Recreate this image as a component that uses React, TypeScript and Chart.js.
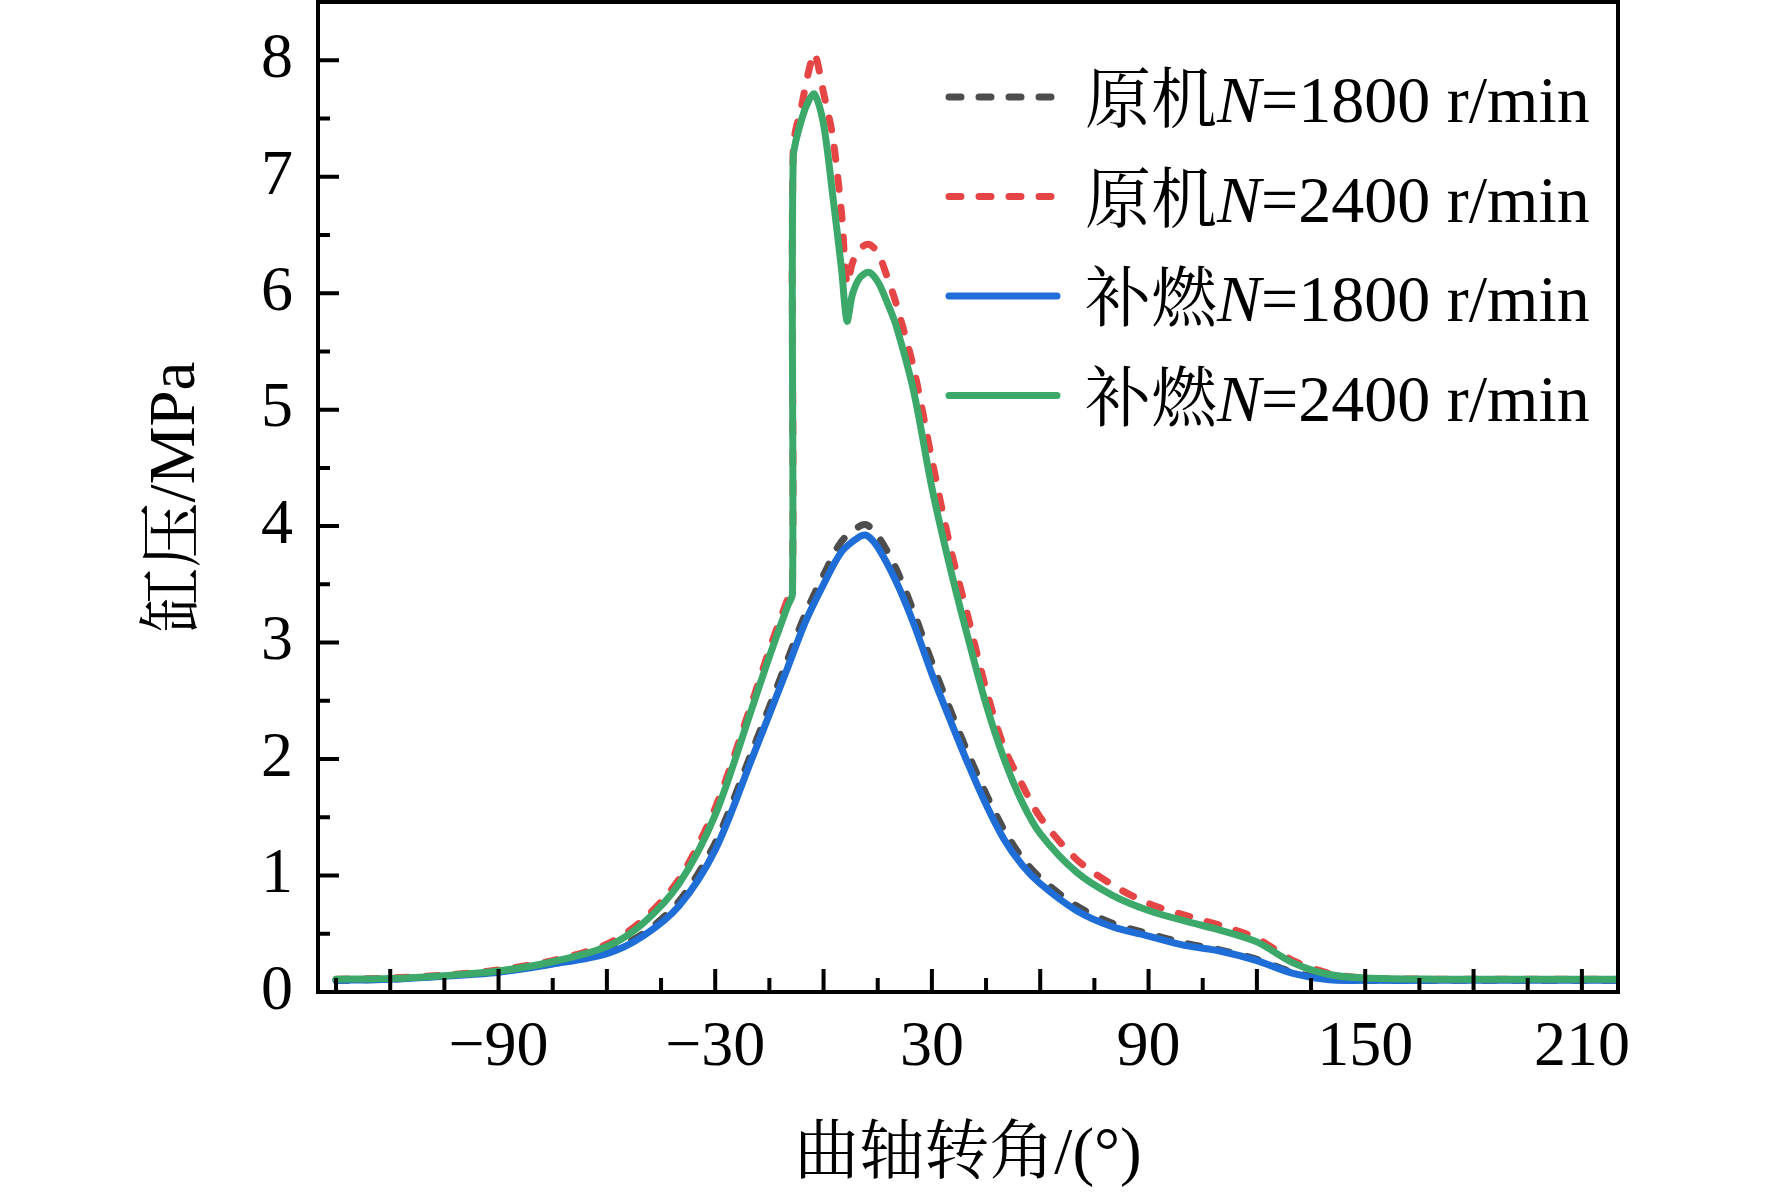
import { useEffect, useRef } from 'react';
import { Chart, registerables } from 'chart.js';

Chart.register(...registerables);

// crank angle (deg) for the 1800 r/min runs
const angles1800 = [
  -135, -120, -105, -90, -75, -60, -50, -40, -30, -20, -10, -5, 0, 5, 10, 12, 15, 20, 25, 30, 35, 40,
  45, 50, 55, 60, 70, 80, 90, 100, 110, 120, 130, 140, 150, 170, 190, 220,
];
const original1800 = [
  0.1, 0.11, 0.14, 0.18, 0.25, 0.35, 0.5, 0.78, 1.28, 2.05, 2.85, 3.25, 3.58, 3.87, 4.0, 4.01, 3.92,
  3.64, 3.26, 2.83, 2.43, 2.05, 1.7, 1.39, 1.15, 0.98, 0.74, 0.59, 0.5, 0.42, 0.36, 0.28, 0.17, 0.11,
  0.1, 0.1, 0.1, 0.1,
];
const afterburn1800 = [
  0.1, 0.11, 0.135, 0.17, 0.24, 0.33, 0.48, 0.74, 1.22, 1.99, 2.78, 3.18, 3.5, 3.78, 3.91, 3.92, 3.82,
  3.53, 3.16, 2.73, 2.34, 1.96, 1.61, 1.31, 1.09, 0.93, 0.7, 0.56, 0.48, 0.4, 0.35, 0.27, 0.16, 0.105,
  0.1, 0.1, 0.1, 0.1,
];

// crank angle (deg) for the 2400 r/min runs (sharp rise near -8.5)
const angles2400 = [
  -135, -120, -105, -90, -75, -60, -50, -40, -30, -20, -15, -10, -8.6, -8.4, -6, -4, -2.5, 0, 2.5, 5,
  6.5, 8, 10, 12.5, 15, 17.5, 20, 25, 30, 35, 40, 45, 50, 55, 60, 70, 80, 90, 100, 110, 120, 130, 140,
  150, 170, 190, 220,
];
const original2400 = [
  0.11, 0.12, 0.145, 0.19, 0.27, 0.41, 0.62, 0.97, 1.58, 2.47, 2.94, 3.37, 3.48, 7.25, 7.62, 7.92, 8.06,
  7.72, 7.35, 6.68, 6.08, 6.26, 6.38, 6.42, 6.35, 6.15, 5.92, 5.35, 4.57, 3.83, 3.22, 2.6, 2.1, 1.78,
  1.5, 1.14, 0.92, 0.76, 0.66, 0.57, 0.46, 0.27, 0.16, 0.12, 0.11, 0.11, 0.11,
];
const afterburn2400 = [
  0.11, 0.115, 0.14, 0.18, 0.26, 0.39, 0.59, 0.93, 1.52, 2.42, 2.88, 3.31, 3.42, 7.16, 7.5, 7.66, 7.71,
  7.45, 6.85, 6.2, 5.76, 5.99, 6.13, 6.18, 6.1, 5.93, 5.73, 5.15, 4.33, 3.65, 3.04, 2.47, 2.0, 1.63,
  1.36, 1.03, 0.83, 0.7, 0.61, 0.53, 0.43, 0.25, 0.15, 0.12, 0.11, 0.11, 0.11,
];

const seriesPrefix = ['原机', '原机', '补燃', '补燃'];
const seriesSpeed = ['1800', '2400', '1800', '2400'];
const seriesColors = ['#4d4d4d', '#e64545', '#1f6dd6', '#3ca96b'];

const xLabelValues = [-90, -30, 30, 90, 150, 210];
const xTitle = '曲轴转角/(°)';
const yTitle = '缸压/MPa';

const SERIF = '"Liberation Serif", "Times New Roman", "Noto Serif CJK SC", "Noto Sans CJK SC", serif';

const xTickValues: number[] = [];
for (let v = -135; v <= 210; v += 15) xTickValues.push(v);
const yTickValues: number[] = [];
for (let v = 0; v <= 8.5; v += 0.5) yTickValues.push(v);

const pts = (xs: number[], ys: number[]) => xs.map((x, i) => ({ x, y: ys[i] }));

const framePlugin = {
  id: 'frameAndTicks',
  afterDatasetsDraw(chart: any) {
    const { ctx, chartArea: a, scales } = chart;
    ctx.save();
    ctx.strokeStyle = '#000';
    ctx.lineWidth = 4;
    ctx.beginPath();
    scales.x.ticks.forEach((t: any) => {
      const px = scales.x.getPixelForValue(t.value);
      const len = t.value % 30 === 0 ? 23 : 14;
      ctx.moveTo(px, a.bottom);
      ctx.lineTo(px, a.bottom - len);
    });
    scales.y.ticks.forEach((t: any) => {
      const py = scales.y.getPixelForValue(t.value);
      const len = Number.isInteger(t.value) ? 21 : 12;
      ctx.moveTo(a.left, py);
      ctx.lineTo(a.left + len, py);
    });
    ctx.stroke();
    ctx.strokeRect(a.left, a.top, a.right - a.left, a.bottom - a.top);
    ctx.restore();
  },
  afterDraw(chart: any) {
    const { ctx, chartArea: a } = chart;
    ctx.save();
    ctx.fillStyle = '#000';

    // axis titles
    ctx.font = `65px ${SERIF}`;
    ctx.textAlign = 'center';
    ctx.textBaseline = 'middle';
    ctx.fillText(xTitle, (a.left + a.right) / 2, a.bottom + 164);
    ctx.save();
    ctx.translate(a.left - 141, (a.top + a.bottom) / 2);
    ctx.rotate(-Math.PI / 2);
    ctx.fillText(yTitle, 0, 0);
    ctx.restore();

    // legend
    const sx = a.left + 627;
    const tx = a.left + 767;
    chart.data.datasets.forEach((ds: any, i: number) => {
      const y = a.top + 95 + i * 99.5;
      ctx.save();
      ctx.strokeStyle = ds.borderColor;
      ctx.lineWidth = 7;
      ctx.lineCap = 'round';
      ctx.setLineDash(ds.borderDash || []);
      ctx.beginPath();
      ctx.moveTo(sx + 4, y);
      ctx.lineTo(sx + 112, y);
      ctx.stroke();
      ctx.restore();

      ctx.textAlign = 'left';
      ctx.textBaseline = 'alphabetic';
      const base = y + 25;
      let x = tx;
      const parts: [string, boolean][] = [
        [seriesPrefix[i], false],
        ['N', true],
        [`=${seriesSpeed[i]} r/min`, false],
      ];
      parts.forEach(([s, it]) => {
        ctx.font = `${it ? 'italic ' : ''}66px ${SERIF}`;
        ctx.fillText(s, x, base);
        x += ctx.measureText(s).width;
      });
    });
    ctx.restore();
  },
};

export default function App() {
  const chartRef = useRef<HTMLCanvasElement | null>(null);

  useEffect(() => {
    let chart: Chart | null = null;
    if (chartRef.current) {
      const context = chartRef.current.getContext('2d');
      if (context) {
        const dashed = [12, 18];
        chart = new Chart(context, {
          type: 'line',
          data: {
            datasets: [
              {
                label: '原机N=1800 r/min',
                data: pts(angles1800, original1800),
                borderColor: seriesColors[0],
                borderDash: dashed,
                order: 3,
              },
              {
                label: '原机N=2400 r/min',
                data: pts(angles2400, original2400),
                borderColor: seriesColors[1],
                borderDash: dashed,
                order: 2,
              },
              {
                label: '补燃N=1800 r/min',
                data: pts(angles1800, afterburn1800),
                borderColor: seriesColors[2],
                order: 1,
              },
              {
                label: '补燃N=2400 r/min',
                data: pts(angles2400, afterburn2400),
                borderColor: seriesColors[3],
                order: 0,
              },
            ],
          },
          options: {
            animation: false,
            responsive: true,
            maintainAspectRatio: false,
            devicePixelRatio: 1,
            events: [],
            layout: { padding: { top: 2, right: 154, left: 0, bottom: 0 } },
            elements: {
              point: { radius: 0 },
              line: {
                borderWidth: 7,
                tension: 0.3,
                borderCapStyle: 'round',
                borderJoinStyle: 'round',
                fill: false,
              },
            },
            plugins: {
              legend: { display: false },
              tooltip: { enabled: false },
            },
            scales: {
              x: {
                type: 'linear',
                min: -140,
                max: 220,
                grid: { display: false, drawTicks: false },
                border: { display: false },
                afterBuildTicks: (scale: any) => {
                  scale.ticks = xTickValues.map((value) => ({ value }));
                },
                afterFit: (scale: any) => {
                  scale.height = 204;
                  scale.paddingLeft = 0;
                  scale.paddingRight = 0;
                  scale.paddingTop = 0;
                  scale.paddingBottom = 0;
                },
                ticks: {
                  autoSkip: false,
                  maxRotation: 0,
                  minRotation: 0,
                  padding: 18,
                  color: '#000',
                  font: { family: SERIF, size: 64 },
                  callback: (value: any) =>
                    xLabelValues.includes(Number(value)) ? String(value).replace('-', '\u2212') : '',
                },
              },
              y: {
                type: 'linear',
                min: 0,
                max: 8.5,
                grid: { display: false, drawTicks: false },
                border: { display: false },
                afterBuildTicks: (scale: any) => {
                  scale.ticks = yTickValues.map((value) => ({ value }));
                },
                afterFit: (scale: any) => {
                  scale.width = 318;
                  scale.paddingLeft = 0;
                  scale.paddingRight = 0;
                  scale.paddingTop = 0;
                  scale.paddingBottom = 0;
                },
                ticks: {
                  autoSkip: false,
                  padding: 25,
                  color: '#000',
                  font: { family: SERIF, size: 64 },
                  callback: (value: any) => (Number.isInteger(Number(value)) ? String(value) : ''),
                },
              },
            },
          },
          plugins: [framePlugin],
        });
      }
    }
    return () => {
      if (chart) chart.destroy();
    };
  }, []);

  return (
    <div style={{ position: 'fixed', left: 0, top: 0, width: 1772, height: 1196, background: '#fff' }}>
      <canvas ref={chartRef}></canvas>
    </div>
  );
}
